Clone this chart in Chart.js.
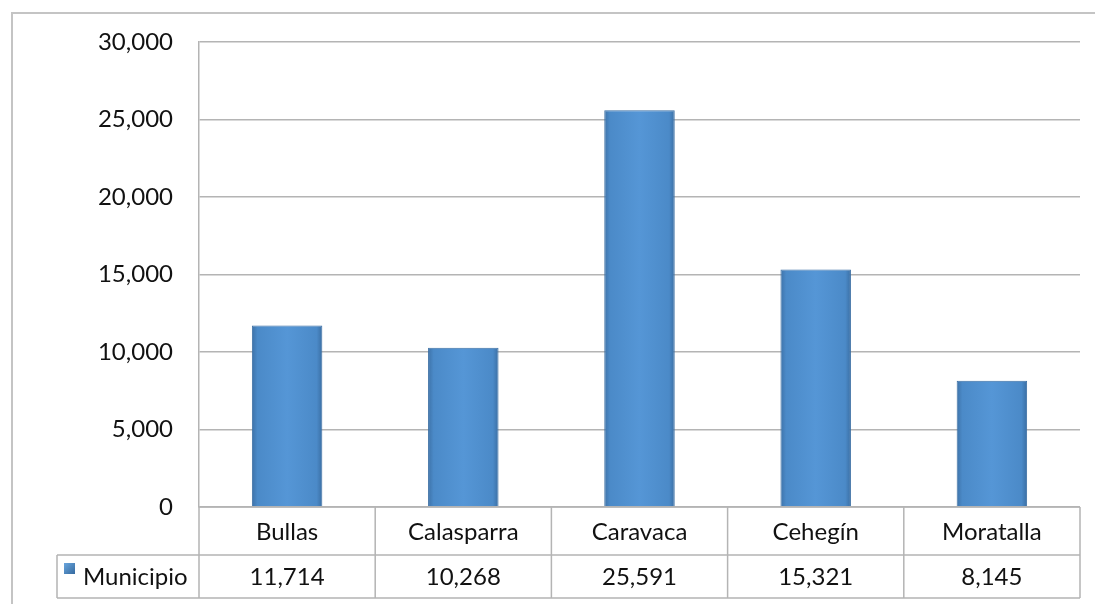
<!DOCTYPE html>
<html>
<head>
<meta charset="utf-8">
<script src="https://cdn.jsdelivr.net/npm/chart.js@4/dist/chart.umd.min.js"></script>
<style>
html,body{margin:0;padding:0;background:#fff;}
#wrap{width:1095px;height:604px;position:relative;}
</style>
</head>
<body>
<div id="wrap"><canvas id="c" width="1095" height="604"></canvas></div>
<script>
const categories = ["Bullas", "Calasparra", "Caravaca", "Cehegín", "Moratalla"];
const seriesName = "Municipio";
const values = [11714, 10268, 25591, 15321, 8145];
const yTicks = [0, 5000, 10000, 15000, 20000, 25000, 30000];

const FONT = "Lato, 'Open Sans', sans-serif";
const FSIZE = 24;
const GRID = "#b4b4b4";
const fmt = v => v.toLocaleString("en-US");

function barGradient(ctx) {
  const chart = ctx.chart;
  const xs = chart.scales && chart.scales.x;
  if (!xs || ctx.dataIndex === undefined) return "#4f8fcf";
  const cx = xs.getPixelForValue(ctx.dataIndex);
  const step = xs.getPixelForValue(1) - xs.getPixelForValue(0);
  const w = step * 0.4;
  if (!isFinite(cx) || !isFinite(w) || w <= 0) return "#4f8fcf";
  const g = chart.ctx.createLinearGradient(cx - w / 2, 0, cx + w / 2, 0);
  g.addColorStop(0, "#3d72a8");
  g.addColorStop(0.08, "#4b8ac8");
  g.addColorStop(0.5, "#5596d6");
  g.addColorStop(0.92, "#4b8ac8");
  g.addColorStop(1, "#3a6ea3");
  return g;
}

const tablePlugin = {
  id: "tablePlugin",
  beforeDraw(chart) {
    const c = chart.ctx;
    c.save();
    c.strokeStyle = "#c4c4c4";
    c.lineWidth = 2;
    c.strokeRect(12, 13, 1200, 700);
    c.restore();
  },
  afterDraw(chart) {
    const c = chart.ctx;
    const xs = chart.scales.x;
    const area = chart.chartArea;
    const n = categories.length;
    const half = (xs.getPixelForValue(1) - xs.getPixelForValue(0)) / 2;
    const top = area.bottom, mid = area.bottom + 48, bot = area.bottom + 91;
    const legendLeft = 57;
    c.save();
    c.strokeStyle = GRID;
    c.lineWidth = 1.5;
    c.beginPath();
    c.moveTo(area.left, top); c.lineTo(area.right, top);
    c.moveTo(legendLeft, mid); c.lineTo(area.right, mid);
    c.moveTo(legendLeft, bot); c.lineTo(area.right, bot);
    c.moveTo(legendLeft, mid); c.lineTo(legendLeft, bot);
    for (let i = 0; i < n; i++) {
      const xl = xs.getPixelForValue(i) - half;
      c.moveTo(xl, top); c.lineTo(xl, bot);
    }
    const xr = xs.getPixelForValue(n - 1) + half;
    c.moveTo(xr, top); c.lineTo(xr, bot);
    c.stroke();

    c.fillStyle = "#111";
    c.font = FSIZE + "px " + FONT;
    c.textAlign = "center";
    c.textBaseline = "middle";
    for (let i = 0; i < n; i++) {
      const x = xs.getPixelForValue(i);
      c.fillText(categories[i], x, (top + mid) / 2 + 1);
      c.fillText(fmt(values[i]), x, (mid + bot) / 2 + 1);
    }
    const g = c.createLinearGradient(64, 563, 75, 574);
    g.addColorStop(0, "#6aa6de");
    g.addColorStop(1, "#356a9f");
    c.fillStyle = g;
    c.fillRect(64, 563, 11, 11);
    c.fillStyle = "#111";
    c.textAlign = "left";
    c.fillText(seriesName, 83, (mid + bot) / 2 + 1);
    c.restore();
  }
};

new Chart(document.getElementById("c"), {
  type: "bar",
  data: {
    labels: categories,
    datasets: [{
      label: seriesName,
      data: values,
      backgroundColor: barGradient,
      borderColor: "#3a6ea3",
      borderWidth: 1,
      barPercentage: 0.4,
      categoryPercentage: 1
    }]
  },
  options: {
    responsive: false,
    animation: false,
    devicePixelRatio: 1,
    layout: { padding: { top: 42, right: 15, bottom: 0, left: 0 } },
    plugins: { legend: { display: false }, tooltip: { enabled: false } },
    scales: {
      x: {
        grid: { display: false, drawTicks: false },
        border: { display: false },
        ticks: { display: false },
        afterFit(s) { s.height = 97; }
      },
      y: {
        min: 0, max: 30000,
        afterBuildTicks(s) { s.ticks = yTicks.map(v => ({ value: v })); },
        afterFit(s) { s.width = 199; },
        grid: { color: GRID, lineWidth: 1.5, drawTicks: false },
        border: { display: true, color: GRID, width: 1.5 },
        ticks: {
          padding: 26,
          color: "#111",
          font: { family: FONT, size: FSIZE },
          callback: v => fmt(v)
        }
      }
    }
  },
  plugins: [tablePlugin]
});
</script>
</body>
</html>
